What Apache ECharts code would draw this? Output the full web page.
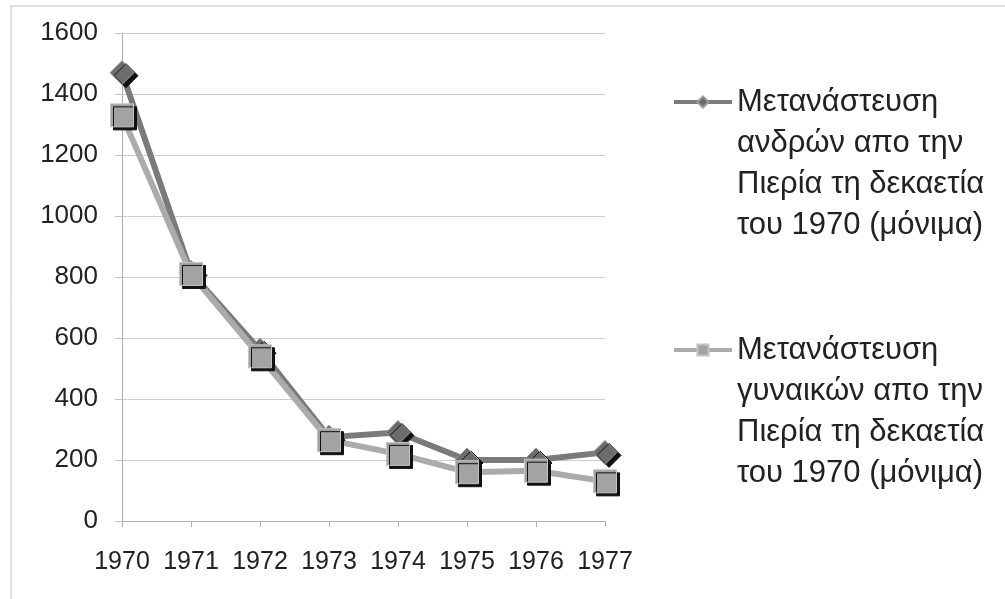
<!DOCTYPE html>
<html>
<head>
<meta charset="utf-8">
<script src="https://cdn.jsdelivr.net/npm/echarts@6/dist/echarts.min.js"></script>
<style>
    html, body { margin: 0; padding: 0; background: #fff; }
    #migrationChart { width: 1005px; height: 599px; }
</style>
</head>
<body>
<div id="migrationChart"></div>
<script>
// δεδομένα
var years = ['1970', '1971', '1972', '1973', '1974', '1975', '1976', '1977'];
var menValues = [1470, 815, 560, 275, 290, 200, 200, 225];
var womenValues = [1330, 810, 540, 265, 220, 160, 165, 130];
var yTicks = [0, 200, 400, 600, 800, 1000, 1200, 1400, 1600];
var menName = 'Μετανάστευση\nανδρών απο την\nΠιερία τη δεκαετία\nτου 1970 (μόνιμα)';
var womenName = 'Μετανάστευση\nγυναικών απο την\nΠιερία τη δεκαετία\nτου 1970 (μόνιμα)';

var fontName = '"Liberation Sans", Arial, sans-serif';
var menColor = '#7a7a7a';
var womenColor = '#ababab';
var lineH = 41;

var chart = echarts.init(document.getElementById('migrationChart'));

// το εικονίδιο μένει στην πρώτη γραμμή: 3 κενές γραμμές πριν το κείμενο
function legendOf(name, iconY) {
    return {
        data: [name],
        orient: 'vertical',
        left: 672,
        top: iconY - lineH * 3.5,
        padding: 0,
        itemWidth: 58,
        itemHeight: 14,
        itemGap: 0,
        lineStyle: { width: 4 },
        formatter: function (n) { return '\n\n\n' + n; },
        textStyle: {
            fontFamily: fontName,
            fontSize: 31,
            color: '#222',
            lineHeight: lineH
        }
    };
}

chart.setOption({
    animation: false,
    textStyle: { fontFamily: fontName },
    grid: { left: 122, right: 400, top: 33, bottom: 78 },
    legend: [legendOf(menName, 102), legendOf(womenName, 350)],
    graphic: [{
        type: 'polyline',
        silent: true,
        shape: { points: [[11, 599], [11, 6], [1005, 6]] },
        style: { stroke: '#c4c4c4', lineWidth: 1, fill: null }
    }],
    xAxis: {
        type: 'category',
        data: years,
        boundaryGap: false,
        axisLine: { lineStyle: { color: '#b0b0b0', width: 1 } },
        axisTick: { show: true, length: 6, interval: 0, lineStyle: { color: '#b0b0b0' } },
        axisLabel: { fontSize: 25, color: '#222', margin: 29, interval: 0 }
    },
    yAxis: {
        type: 'value',
        min: yTicks[0],
        max: yTicks[yTicks.length - 1],
        interval: 200,
        axisLine: { show: true, lineStyle: { color: '#b0b0b0', width: 1 } },
        axisTick: { show: true, length: 7, lineStyle: { color: '#c8c8c8' } },
        splitLine: { lineStyle: { color: '#cdcdcd', width: 1 } },
        axisLabel: {
            fontSize: 26, color: '#222', margin: 24,
            formatter: function (v) { return String(v); }
        }
    },
    series: [{
        name: menName,
        type: 'line',
        data: menValues,
        symbol: 'diamond',
        symbolSize: [24, 24],
        lineStyle: { color: menColor, width: 6 },
        itemStyle: {
            color: '#6c6c6c',
            borderColor: '#9a9a9a',
            borderWidth: 1,
            shadowColor: '#111',
            shadowOffsetX: 4,
            shadowOffsetY: 3,
            shadowBlur: 0
        }
    }, {
        name: womenName,
        type: 'line',
        data: womenValues,
        symbol: 'rect',
        symbolSize: 23,
        lineStyle: { color: womenColor, width: 6 },
        itemStyle: {
            color: '#a3a3a3',
            borderColor: '#c4c4c4',
            borderWidth: 1,
            shadowColor: '#111',
            shadowOffsetX: 3,
            shadowOffsetY: 3,
            shadowBlur: 0
        }
    }]
});
</script>
</body>
</html>
